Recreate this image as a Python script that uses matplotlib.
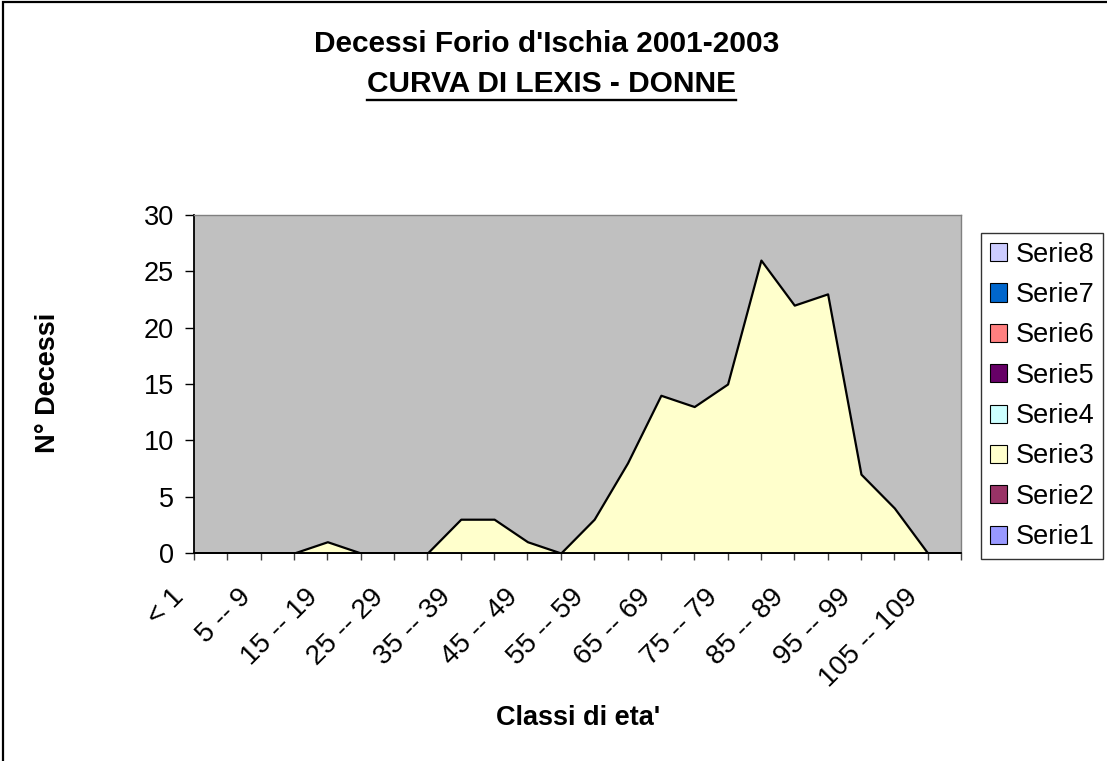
import matplotlib
matplotlib.use('Agg')
import matplotlib.pyplot as plt
from matplotlib.patches import Patch, Rectangle
from matplotlib.lines import Line2D
from matplotlib.transforms import ScaledTranslation

plt.rcParams['font.family'] = ['Liberation Sans', 'DejaVu Sans']

# Classi di eta' (una etichetta ogni due viene mostrata)
classi = ['< 1', '1 -- 4', '5 -- 9', '10 -- 14', '15 -- 19', '20 -- 24',
          '25 -- 29', '30 -- 34', '35 -- 39', '40 -- 44', '45 -- 49',
          '50 -- 54', '55 -- 59', '60 -- 64', '65 -- 69', '70 -- 74',
          '75 -- 79', '80 -- 84', '85 -- 89', '90 -- 94', '95 -- 99',
          '100 -- 104', '105 -- 109', '110 e oltre']

# Decessi donne (Serie3)
decessi_donne = [0, 0, 0, 0, 1, 0, 0, 0, 3, 3, 1, 0,
                 3, 8, 14, 13, 15, 26, 22, 23, 7, 4, 0, 0]

serie_nomi = ['Serie8', 'Serie7', 'Serie6', 'Serie5',
              'Serie4', 'Serie3', 'Serie2', 'Serie1']
serie_colori = ['#CCCCFF', '#0066CC', '#FF8080', '#660066',
                '#CCFFFF', '#FFFFCC', '#993366', '#9999FF']

y_ticks = [0, 5, 10, 15, 20, 25, 30]

W, H = 1107, 761
fig = plt.figure(figsize=(W / 100, H / 100), dpi=100)
ax = fig.add_axes([194 / W, 1 - 553 / H, 767 / W, 338 / H])
ax.set_facecolor('#C0C0C0')

x = list(range(len(classi)))
ax.fill_between(x, decessi_donne, 0, facecolor='#FFFFCC',
                edgecolor='black', linewidth=1.6, zorder=2)

ax.set_xlim(0, len(classi) - 1)
ax.set_ylim(0, 30)
ax.set_yticks(y_ticks)
ax.set_xticks(x)
ax.set_xticklabels([c if i % 2 == 0 else '' for i, c in enumerate(classi)],
                   rotation=45, ha='right', va='center', rotation_mode='anchor')
ax.tick_params(axis='y', labelsize=19.5, length=6.5, width=1, pad=8, direction='out')
ax.tick_params(axis='x', labelsize=20, length=5, width=1, pad=24, direction='out',
               color='#404040')
for lbl in ax.get_xticklabels():
    lbl.set_transform(lbl.get_transform() + ScaledTranslation(-10 / 72, 0, fig.dpi_scale_trans))

for s in ['left', 'bottom']:
    ax.spines[s].set_color('black')
    ax.spines[s].set_linewidth(1.3)
for s in ['top', 'right']:
    ax.spines[s].set_color('#808080')
    ax.spines[s].set_linewidth(1)

# Legenda
handles = [Patch(facecolor=c, edgecolor='black', linewidth=0.8) for c in serie_colori]
leg = fig.legend(handles, serie_nomi, loc='upper left',
                 bbox_to_anchor=(981 / W, 1 - 233 / H), fontsize=19.5,
                 frameon=True, fancybox=False, edgecolor='black',
                 handlelength=0.65, handleheight=0.65, handletextpad=0.3,
                 labelspacing=0.53, borderpad=0.32, borderaxespad=0)
leg.get_frame().set_linewidth(1)

# Titoli
fig.text(0.494, 1 - 44 / H, "Decessi Forio d'Ischia 2001-2003",
         ha='center', va='center', fontsize=21.5, weight='bold')
t2 = fig.text(0.498, 1 - 84 / H, "CURVA DI LEXIS - DONNE",
              ha='center', va='center', fontsize=21.5, weight='bold')
fig.text(48 / W, 1 - 383 / H, "N° Decessi", rotation=90,
         ha='center', va='center', fontsize=19.5, weight='bold')
fig.text(578 / W, 1 - 718 / H, "Classi di eta'",
         ha='center', va='center', fontsize=19.5, weight='bold')

# sottolineatura del sottotitolo
fig.canvas.draw()
bb = t2.get_window_extent()
fig.add_artist(Line2D([bb.x0 / W, bb.x1 / W], [1 - 100 / H, 1 - 100 / H],
                      transform=fig.transFigure, color='black', linewidth=1.7))

# bordo dell'area grafico
fig.add_artist(Rectangle((3 / W, -0.1), 1.2, 1.1 - 2 / H, transform=fig.transFigure,
                         fill=False, edgecolor='black', linewidth=1.6))

fig.savefig('out.png', dpi=100)
